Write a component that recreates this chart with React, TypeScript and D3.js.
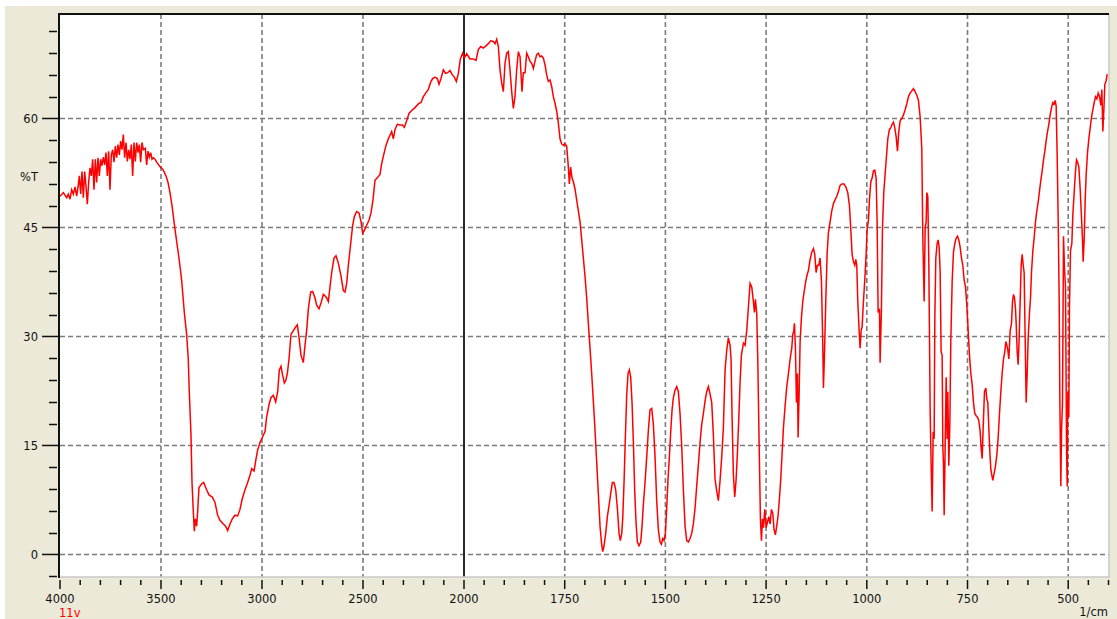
import React from 'react';
import * as d3 from 'd3';

const W = 1117;
const H = 619;

// IR spectrum, [wavenumber (1/cm), %T], split by spectral region.
const ohRegion: [number, number][] = [
  [4000, 49.3], [3983.5, 49.8], [3967, 49.1], [3958.7, 49.6], [3950.5, 48.9], [3942.2, 50.2],
  [3934, 49.6], [3925.7, 50.6], [3917.5, 49.3], [3909.2, 50.9], [3904.3, 52.1], [3897.7, 49.6],
  [3891.1, 52.7], [3884.5, 49.1], [3877.9, 52.7], [3871.3, 50.7], [3864.7, 48.2], [3858.1, 51.2],
  [3851.5, 53.2], [3844.9, 52.1], [3838.3, 54.4], [3831.7, 50.2], [3825.1, 54.4], [3818.5, 51.2],
  [3811.9, 54.6], [3805.3, 52.1], [3798.7, 54.4], [3792.1, 53.5], [3785.5, 54.7], [3778.9, 53.6],
  [3772.3, 55.3], [3765.7, 52.1], [3759.1, 55.5], [3752.5, 50.2], [3745.9, 55.0], [3739.3, 55.7],
  [3732.7, 54.0], [3726.1, 56.2], [3719.5, 54.6], [3712.9, 56.4], [3706.3, 55.0], [3699.7, 56.9],
  [3693.1, 55.7], [3686.5, 57.8], [3679.9, 54.6], [3673.3, 56.7], [3666.7, 54.1], [3660.1, 55.7],
  [3653.5, 54.4], [3646.9, 56.4], [3640.3, 52.1], [3633.7, 56.7], [3627.1, 54.1], [3620.5, 56.7],
  [3613.9, 55.3], [3607.3, 56.4], [3600.7, 54.0], [3594.1, 56.7], [3587.4, 55.7], [3577.6, 55.9],
  [3570.9, 53.6], [3564.3, 55.5], [3557.7, 54.7], [3551.1, 55.3], [3544.5, 54.4], [3537.9, 54.6],
  [3529.7, 54.4], [3521.4, 54.0], [3511.5, 53.6], [3501.6, 53.3], [3488.4, 52.9], [3475.2, 52.1],
  [3465.3, 51.2], [3455.5, 49.8], [3445.5, 48.0],
  [3431, 44.8], [3411, 40.8], [3398, 37.8], [3384.5, 33.3], [3373, 30.3], [3365, 26.9],
  [3360, 22.4], [3351.5, 16.4], [3346.5, 9.9], [3340, 5.9], [3335, 3.2], [3330, 4.9], [3323.5, 3.9],
  [3318.5, 5.9], [3312, 9.2], [3299, 9.7], [3289, 9.9], [3274, 8.9], [3262.5, 8.2], [3246, 7.9],
  [3233, 7.2], [3219.5, 5.4], [3208, 4.7], [3191.5, 4.2], [3180, 3.9], [3170, 3.3], [3158.5, 4.2],
  [3147, 4.9], [3134, 5.4], [3120.5, 5.3], [3109, 6.2], [3097.5, 7.7], [3084, 8.9], [3071, 9.9],
  [3059.5, 10.9], [3051, 11.8], [3039.5, 11.5], [3031, 12.9], [3021.5, 14.4], [3010, 15.4],
  [2998.5, 16.1], [2985, 16.9],
];

const chRegion: [number, number][] = [
  [2977, 18.9], [2965.4, 20.6], [2955.4, 21.6], [2943.9, 21.9], [2932.3, 21.0], [2922.4, 22.4],
  [2914.2, 25.4], [2905.9, 25.9], [2899.3, 24.9], [2889.4, 23.6], [2882.8, 23.9], [2874.6, 24.9],
  [2866.3, 26.9], [2856.4, 30.3], [2844.9, 30.8], [2833.3, 31.3], [2825.1, 31.6], [2816.8, 29.9],
  [2806.9, 27.4], [2795.4, 26.4], [2787.1, 28.8], [2778.9, 30.8], [2770.6, 33.8], [2759.1, 36.1],
  [2749.1, 36.2], [2737.6, 35.3], [2729.4, 34.3], [2717.8, 33.8], [2707.9, 34.6], [2696.4, 35.8],
  [2688.1, 35.6], [2679.9, 35.3], [2671.6, 34.8], [2663.4, 36.8], [2655.1, 38.8], [2643.6, 40.8],
  [2633.7, 41.1], [2622.1, 40.1], [2608.9, 38.3], [2597.3, 36.3], [2589.1, 36.1], [2580.8, 37.3],
  [2572.6, 39.8], [2561, 42.8], [2551.1, 45.3], [2542.9, 46.5], [2531.3, 47.2], [2519.8, 47.0],
  [2509.9, 45.8], [2501.6, 44.2], [2493.4, 44.6], [2481.8, 45.3], [2470.3, 46.0], [2460.4, 47.0],
  [2450.5, 48.8], [2440.6, 51.5], [2427.4, 51.9], [2415.8, 52.3], [2407.6, 53.8], [2397.7, 55.0],
  [2386.1, 56.3], [2374.6, 57.2], [2366.3, 57.7], [2358.1, 58.2], [2349.8, 57.2], [2341.6, 58.5],
  [2330, 59.2], [2316.8, 59.1], [2305.3, 59.1], [2295.4, 58.8], [2283.8, 59.7], [2272.3, 60.7],
  [2259.1, 61.1], [2242.6, 61.5], [2226.1, 62.0], [2212.8, 62.2], [2201.3, 63.0], [2189.7, 63.5],
  [2176.6, 64.0], [2165, 65.0], [2155.1, 65.5], [2143.6, 65.7], [2132, 65.5], [2123.7, 64.7],
  [2113.8, 65.5], [2102.3, 66.7], [2090.7, 66.2], [2080.8, 66.3], [2069.3, 66.6], [2057.7, 66.0],
  [2047.8, 65.7], [2037.9, 65.1], [2028, 66.2], [2018.1, 68.2], [2006.6, 69.0],
];

const overtoneRegion: [number, number][] = [
  [1999.2, 68.3], [1993.4, 68.9], [1985.1, 68.2], [1976.8, 68.2], [1970.2, 68.0], [1964.4, 69.5],
  [1958.6, 69.9], [1952, 69.7], [1945.4, 70.0], [1939.6, 70.3], [1933.8, 70.7], [1927.2, 70.6],
  [1923, 70.3], [1918.9, 70.9], [1914.7, 69.9], [1910.6, 66.7], [1906.5, 64.9], [1902.3, 63.7],
  [1898.2, 67.6], [1894, 69.0], [1889.9, 69.2], [1885.8, 66.7], [1881.6, 63.7], [1877.5, 61.4],
  [1873.4, 63.0], [1869.2, 66.7], [1865.1, 69.2], [1860.9, 68.5], [1856, 63.7], [1852.7, 66.3],
  [1848.5, 66.3], [1844.4, 69.0], [1840.3, 68.5], [1836.1, 67.9], [1832, 67.6], [1827.8, 66.9],
  [1823.7, 67.9], [1819.6, 68.8], [1815.4, 69.0], [1811.3, 68.5], [1807.2, 68.6], [1803, 68.3],
  [1798.9, 67.4], [1794.7, 66.0], [1790.6, 65.1], [1786.4, 65.3], [1782.3, 64.4], [1778.2, 63.0],
  [1774, 62.1], [1769.9, 61.0], [1765.8, 59.4],
];

const doubleBondRegion: [number, number][] = [
  [1761.6, 57.2], [1757.5, 56.5], [1753.4, 56.3], [1749.2, 56.5], [1745.1, 56.2], [1740.9, 53.3],
  [1738.5, 51.0], [1735.2, 53.3], [1731.8, 51.8], [1728.5, 51.3], [1724.4, 50.3], [1720.3, 48.8],
  [1716.1, 47.3], [1712, 45.8], [1707.8, 43.3], [1703.7, 40.8], [1699.6, 38.3], [1695.4, 35.3],
  [1691.3, 31.8], [1687.2, 28.4], [1683, 24.9], [1678.9, 21.1], [1674.7, 17.1], [1670.6, 12.7],
  [1666.5, 8.4], [1662.3, 3.9], [1658.2, 1.4], [1655.7, 0.4], [1652.4, 1.2], [1648.2, 2.9],
  [1644.1, 5.2], [1640, 6.7], [1635.8, 8.4], [1631.7, 9.9], [1627.6, 9.9], [1623.4, 8.9],
  [1619.3, 6.4], [1615.1, 2.9], [1611.8, 1.9], [1608.5, 2.9], [1606, 4.9], [1602.7, 9.9],
  [1599.4, 16.1], [1596.1, 21.9], [1592.8, 24.9], [1589.5, 25.4], [1586.2, 24.4], [1582.8, 20.9],
  [1579.5, 15.4], [1576.2, 8.7], [1572.9, 4.4], [1569.6, 1.7], [1565.5, 1.2], [1561.3, 1.7],
  [1558, 3.9], [1554.7, 6.9], [1550.6, 9.9], [1546.4, 13.4], [1542.3, 17.1], [1538.2, 19.9],
  [1534, 20.1], [1529.9, 17.9], [1525.7, 13.4], [1521.6, 7.4], [1517.5, 3.4], [1513.3, 1.7],
  [1510, 1.4], [1506.7, 2.2], [1503.4, 1.9], [1500.1, 2.9], [1496.8, 6.4], [1493.5, 10.4],
  [1490.2, 13.4], [1486.8, 16.9], [1483.5, 19.9], [1480.2, 21.6], [1476.1, 22.6], [1471.9, 23.1],
  [1467.8, 22.4], [1463.7, 19.4], [1459.5, 14.9], [1455.4, 8.9], [1451.2, 3.9], [1447.1, 1.9],
  [1443, 1.7], [1438.8, 2.2], [1434.7, 2.9], [1430.6, 4.2], [1426.4, 6.4], [1422.3, 9.4],
  [1418.1, 12.4], [1414, 15.4], [1409.9, 17.9], [1405.7, 19.4], [1401.6, 21.1], [1397.5, 22.4],
  [1393.3, 23.1], [1389.2, 22.1], [1385, 20.9], [1380.9, 16.4], [1376.8, 10.4], [1372.6, 8.7],
  [1368.5, 7.4], [1364.3, 10.2], [1360.2, 13.4], [1356.1, 17.4], [1351.9, 25.4], [1347.8, 28.1],
  [1343.7, 29.8], [1339.5, 28.8], [1337, 26.9], [1334.5, 18.9], [1331.2, 10.9], [1327.9, 7.9],
  [1324.6, 10.2], [1321.3, 13.9], [1318, 18.4], [1314.7, 23.6], [1311.4, 27.4],
];

const fingerprintHigh: [number, number][] = [
  [1306.3, 29.1], [1302.2, 28.8], [1298.1, 30.8], [1293.9, 34.1], [1289.8, 37.3], [1285.6, 36.8],
  [1281.5, 34.8], [1279, 33.3], [1276.5, 35.1], [1273.2, 33.1], [1270.7, 26.9], [1267.4, 15.4],
  [1264.1, 4.9], [1261.6, 1.9], [1259.1, 4.9], [1256.7, 3.7], [1253.3, 6.2], [1250, 3.7],
  [1246.7, 4.4], [1243.4, 5.2], [1240.1, 4.2], [1236.8, 6.2], [1233.5, 5.7], [1230.2, 3.4],
  [1226.9, 2.7], [1223.6, 3.9], [1220.2, 5.4], [1216.9, 7.7], [1213.6, 10.4], [1210.3, 13.9],
  [1207, 17.4], [1202.9, 20.4], [1198.7, 23.1], [1194.6, 24.9], [1190.4, 26.9], [1186.3, 28.4],
  [1183.8, 30.3], [1181.3, 30.8], [1179.7, 31.8], [1177.2, 28.4], [1174.7, 20.9], [1172.2, 24.9],
  [1170.6, 16.1], [1168.1, 21.9], [1165.6, 29.3], [1162.3, 32.6], [1159, 34.8], [1155.7, 36.1],
  [1152.4, 37.3], [1149.1, 38.3], [1144.9, 39.1], [1140.8, 40.6], [1136.6, 41.6], [1132.5, 42.1],
  [1129.2, 41.3], [1125.9, 38.8], [1122.6, 39.8], [1119.3, 39.8], [1116, 40.8], [1112.6, 37.6],
  [1109.3, 28.8], [1107.7, 22.9], [1105.2, 27.4], [1101.9, 34.8], [1098.6, 41.3], [1095.3, 44.3],
  [1091.1, 45.8], [1087, 47.3], [1082.8, 48.3], [1078.7, 48.8], [1074.6, 49.3], [1070.4, 50.0],
  [1066.3, 50.8], [1062.1, 51.0], [1056.4, 51.0], [1051.4, 50.5], [1047.3, 49.8], [1043.1, 48.0],
  [1039.8, 44.8], [1036.5, 41.3], [1033.2, 40.3], [1029.9, 39.8], [1027.4, 40.6], [1024.9, 39.8],
  [1022.4, 34.8], [1019.1, 30.8], [1016.6, 28.4], [1014.1, 30.8], [1011.7, 31.3], [1008.4, 34.8],
  [1005, 37.8], [1001.7, 41.3], [999.2, 44.8], [995.9, 46.0], [993.5, 48.8], [990.1, 51.3],
  [986.8, 51.8], [983.5, 52.8], [980.2, 52.9], [976.9, 51.8], [974.4, 45.8], [971.9, 33.3],
  [968.6, 33.8], [967, 26.4], [963.7, 33.8], [961.2, 44.8], [957.9, 49.8], [954.6, 52.3],
  [951.2, 54.8], [947.9, 57.2], [943.8, 58.5], [940.5, 58.7], [937.2, 59.2], [933.9, 59.5],
  [930.5, 58.7], [927.2, 57.5], [923.9, 55.5], [920.6, 58.2], [917.3, 59.7], [913.2, 60.0],
  [909, 60.5], [904.9, 61.2], [900.8, 62.0], [896.6, 63.0], [892.5, 63.5], [888.3, 63.8],
  [884.2, 64.1], [880.1, 63.7], [875.9, 63.2], [871.8, 62.5], [867.6, 60.2],
];

const fingerprintLow: [number, number][] = [
  [863.5, 55.8], [861, 43.8], [857.7, 34.8], [855.2, 44.8], [852.7, 45.8], [851, 49.8],
  [848.6, 49.3], [846.1, 40.3], [842.8, 19.9], [840.3, 12.4], [837.8, 5.9], [835.3, 16.9],
  [832.8, 15.9], [831.2, 32.3], [828.7, 40.8], [825.4, 42.8], [822.9, 43.3], [820.4, 42.3],
  [817.9, 38.8], [815.5, 27.9], [813, 27.4], [811.3, 14.9], [809.7, 12.4], [808, 5.4],
  [805.5, 14.9], [803, 24.4], [800.6, 15.9], [798.9, 22.4], [796.4, 12.2], [793.9, 17.9],
  [791.5, 29.3], [788.1, 37.6], [784.9, 41.6], [781.5, 42.8], [778.2, 43.5], [774.9, 43.8],
  [771.6, 43.3], [768.3, 42.3], [765, 40.8], [761.7, 39.8], [758.4, 37.8], [755, 36.8],
  [751.7, 34.3], [748.4, 30.8], [745.1, 27.4], [741.8, 24.9], [738.5, 23.4], [735.2, 20.9],
  [731.9, 19.4], [728.5, 19.1], [725.2, 18.9], [721.9, 18.4], [718.6, 16.9], [716.1, 14.6],
  [713.6, 13.2], [711.2, 17.4], [707.9, 22.4], [704.5, 22.9], [702.1, 21.4], [699.6, 20.9],
  [697.1, 17.4], [694.6, 14.2], [692.1, 11.7], [689.6, 10.9], [687.2, 10.2], [683.9, 11.2],
  [680.5, 12.2], [677.2, 13.7], [673.9, 16.1], [670.6, 19.4], [667.3, 22.4], [664, 24.9],
  [660.7, 26.9], [657.4, 27.9], [654.9, 29.3], [652.4, 28.8], [649.9, 28.1], [647.4, 26.9],
  [644.1, 30.8], [640.8, 31.8], [638.3, 34.8], [635.8, 35.8], [633.4, 35.3], [630.9, 33.8],
  [629.2, 31.8], [626.7, 27.9], [624.3, 26.1], [621.8, 29.8], [619.3, 34.8], [616.8, 39.8],
  [614.3, 41.3], [611.8, 39.8], [609.4, 38.8], [606.9, 29.8], [604.4, 20.9], [601.9, 24.9],
  [599.4, 29.8], [596.1, 33.3], [593.6, 35.3], [591.2, 38.8], [587.8, 41.8], [584.5, 43.6],
  [581.2, 45.8], [577.9, 47.3], [574.6, 48.5], [571.3, 50.0], [568, 51.5], [564.7, 52.8],
  [561.3, 54.3], [558, 55.5], [554.7, 57.0], [551.4, 58.2], [548.1, 59.2], [544.8, 60.5],
  [541.5, 61.5], [538.2, 62.2], [534.9, 62.0], [532.4, 62.5], [529.9, 61.7], [527.4, 54.8],
  [524.9, 46.0], [522.4, 34.8], [520.8, 21.4], [518.3, 9.4], [516.7, 16.9], [514.2, 20.9],
  [511.7, 43.8], [509.2, 39.3], [506.7, 36.8], [504.2, 14.9], [502.6, 9.4], [500.9, 22.4],
  [498.5, 18.9], [496.8, 34.3], [494.3, 41.8], [491, 42.8], [488.5, 46.8], [485.2, 49.8],
  [481.9, 52.8], [479.4, 54.3], [476.9, 54.0], [473.6, 53.3], [470.3, 50.3], [467, 46.3],
  [464.5, 43.3], [462.9, 40.3], [460.4, 43.3], [457.9, 48.8], [455.4, 52.3], [452.1, 55.3],
  [448.8, 57.2], [445.5, 58.7], [442.2, 60.2], [438.9, 61.2], [435.5, 62.2], [432.2, 63.0],
  [428.9, 62.7], [425.6, 63.5], [422.3, 63.0], [419, 61.8], [416.5, 64.0], [414, 58.2],
  [411.5, 61.2], [409.1, 64.7], [405.8, 65.2], [403.3, 66.1],
];

// Axis definitions
const xLabelTicks = [4000, 3500, 3000, 2500, 2000, 1750, 1500, 1250, 1000, 750, 500];
const xTickLabels = ['4000', '3500', '3000', '2500', '2000', '1750', '1500', '1250', '1000', '750', '500'];
const xGridTicks = [3500, 3000, 2500, 1750, 1500, 1250, 1000, 750, 500];
const xSplit = 2000;
const yLabelTicks = [0, 15, 30, 45, 60];
const yTickLabels = ['0', '15', '30', '45', '60'];
const yUnit = '%T';
const xUnit = '1/cm';
const sampleName = '11v';

const FONT = '"DejaVu Sans", Verdana, sans-serif';

export default function App() {
  const left = 60;
  const right = 1109;
  const top = 14;
  const bottom = 577;

  // Two-slope wavenumber axis: 4000–2000 compressed, 2000–400 expanded.
  const x = d3.scaleLinear().domain([4000, 2000, 400]).range([left, 464, 1108.5]);
  const y = d3.scaleLinear().domain([-3.17, 74.45]).range([577.5, 13.5]);

  const spectrum = [
    ...ohRegion,
    ...chRegion,
    ...overtoneRegion,
    ...doubleBondRegion,
    ...fingerprintHigh,
    ...fingerprintLow,
  ];
  const line = d3
    .line<[number, number]>()
    .x((d) => x(d[0]))
    .y((d) => y(d[1]));

  const xMinor = [...d3.range(4000, 2000, -100), ...d3.range(2000, 399, -50)];
  const yMinor = d3.range(-3, 73, 3);

  return (
    <svg
      width={W}
      height={H}
      style={{ position: 'absolute', left: 0, top: 0, display: 'block' }}
    >
      <rect x={0} y={0} width={W} height={H} fill="#ffffff" />
      <rect x={5} y={6} width={W - 5} height={H - 6} fill="#ECE9D8" />
      <rect x={left} y={top} width={right - left} height={bottom - top} fill="#ffffff" />

      <defs>
        <clipPath id="plot-clip">
          <rect x={left} y={top} width={right - left} height={bottom - top} />
        </clipPath>
      </defs>

      {/* grid */}
      <g stroke="#7c7c7c" strokeWidth={1.6} strokeDasharray="5,3" fill="none">
        {yLabelTicks.map((t) => (
          <line key={`gy${t}`} x1={left} x2={right} y1={y(t)} y2={y(t)} />
        ))}
        {xGridTicks.map((t) => (
          <line key={`gx${t}`} x1={x(t)} x2={x(t)} y1={top} y2={bottom} />
        ))}
      </g>
      <line x1={x(xSplit)} x2={x(xSplit)} y1={top} y2={bottom} stroke="#2a2a2a" strokeWidth={2} />

      {/* spectrum */}
      <path
        d={line(spectrum) || ''}
        fill="none"
        stroke="#ff0000"
        strokeWidth={1.5}
        strokeLinejoin="miter"
        clipPath="url(#plot-clip)"
      />

      {/* frame */}
      <line x1={right} x2={right} y1={top} y2={bottom + 1} stroke="#c8c8c8" strokeWidth={1.5} />
      <line x1={left} x2={right + 1} y1={bottom} y2={bottom} stroke="#c8c8c8" strokeWidth={1.5} />
      <line x1={left - 1} x2={left - 1} y1={top - 1} y2={bottom + 1} stroke="#111" strokeWidth={2} />
      <line x1={left - 2} x2={right} y1={top} y2={top} stroke="#111" strokeWidth={2} />

      {/* y ticks */}
      <g stroke="#111" strokeWidth={1.5}>
        {yMinor
          .filter((t) => !yLabelTicks.includes(t))
          .map((t) => (
            <line key={`ym${t}`} x1={49} x2={57} y1={Math.round(y(t)) + 0.5} y2={Math.round(y(t)) + 0.5} />
          ))}
        {yLabelTicks.map((t) => (
          <line key={`yM${t}`} x1={42} x2={59} y1={y(t)} y2={y(t)} />
        ))}
      </g>
      <g fontFamily={FONT} fontSize={11.5} fill="#111" textAnchor="end">
        {yLabelTicks.map((t, i) => (
          <text key={`yl${t}`} x={38} y={y(t) + 4.5}>
            {yTickLabels[i]}
          </text>
        ))}
        <text x={38} y={181}>
          {yUnit}
        </text>
      </g>

      {/* x ticks */}
      <g stroke="#111" strokeWidth={1.5}>
        {xMinor
          .filter((t) => !xLabelTicks.includes(t))
          .map((t) => (
            <line key={`xm${t}`} x1={x(t)} x2={x(t)} y1={580} y2={585} />
          ))}
        {xLabelTicks.map((t) => (
          <line key={`xM${t}`} x1={x(t)} x2={x(t)} y1={580} y2={589} />
        ))}
      </g>
      <g fontFamily={FONT} fontSize={11.5} fill="#111" textAnchor="middle">
        {xLabelTicks.map((t, i) => (
          <text key={`xl${t}`} x={x(t)} y={603}>
            {xTickLabels[i]}
          </text>
        ))}
      </g>
      <text x={1108} y={616} fontFamily={FONT} fontSize={11.5} fill="#111" textAnchor="end">
        {xUnit}
      </text>
      <text x={59} y={617} fontFamily={FONT} fontSize={11.5} fill="#ff0000">
        {sampleName}
      </text>
    </svg>
  );
}
